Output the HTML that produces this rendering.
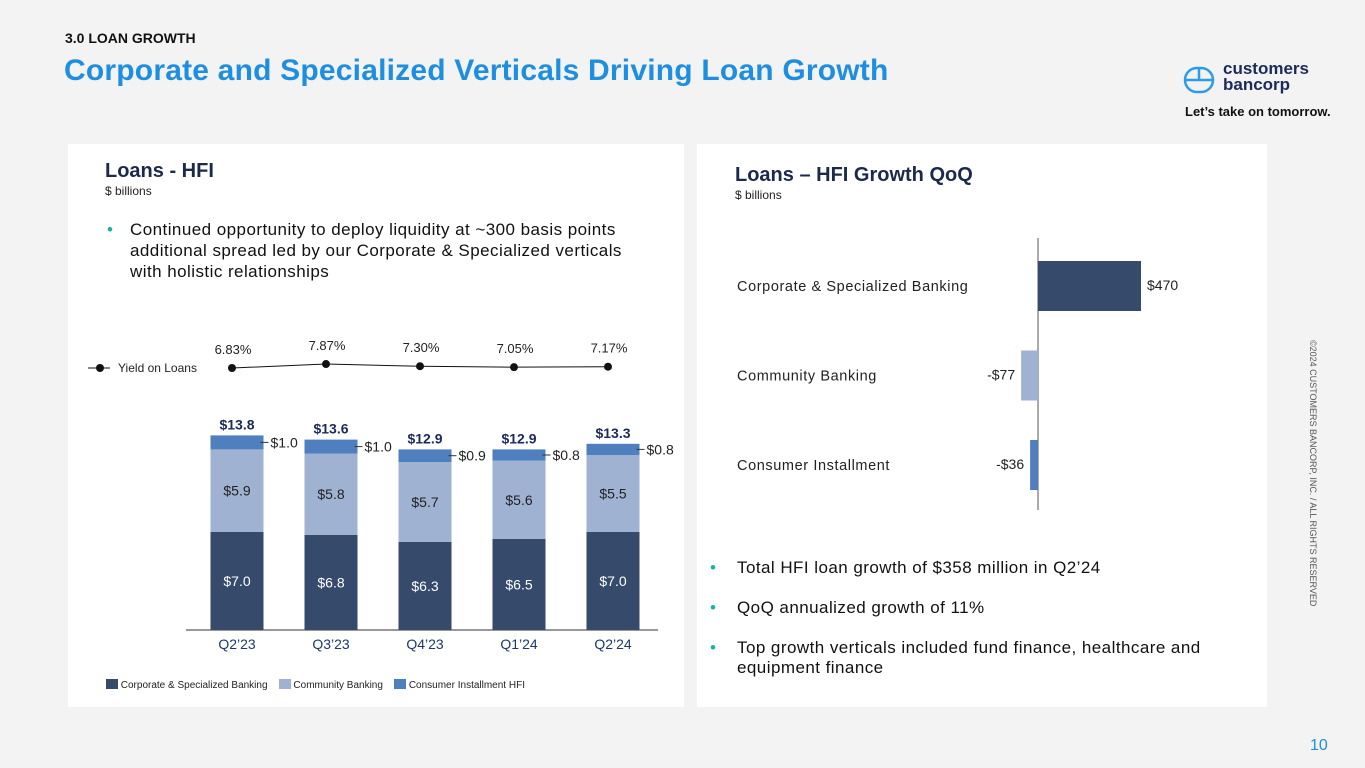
<!DOCTYPE html>
<html><head><meta charset="utf-8"><style>
body{margin:0;width:1365px;height:768px;background:#f3f3f3;font-family:"Liberation Sans",sans-serif;position:relative;overflow:hidden}
.abs{position:absolute}
.panel{position:absolute;background:#fff}
.t{position:absolute;white-space:nowrap}
.bl{position:relative;padding-left:23px}
.bl b{position:absolute;left:0;top:0;color:#1ab0a0;font-weight:normal}
</style></head><body>
<div class="t" style="left:65px;top:30px;font-size:14px;font-weight:bold;color:#111">3.0 LOAN GROWTH</div>
<div class="t" style="left:64px;top:54px;font-size:30px;font-weight:bold;color:#1e8fe0;letter-spacing:0.2px">Corporate and Specialized Verticals Driving Loan Growth</div>
<svg class="abs" style="left:1183px;top:66px" width="32" height="28" viewBox="0 0 32 28"><rect x="2" y="2" width="28" height="24" rx="12" fill="none" stroke="#2c9be8" stroke-width="2.5"/><line x1="2" y1="14" x2="30" y2="14" stroke="#2c9be8" stroke-width="2.5"/><line x1="16" y1="2" x2="16" y2="14" stroke="#2c9be8" stroke-width="2.5"/></svg>
<div class="t" style="left:1223px;top:61px;font-size:17px;font-weight:bold;color:#1b2a5a;line-height:16px">customers<br>bancorp</div>
<div class="t" style="left:1185px;top:104px;font-size:13px;font-weight:bold;color:#111">Let’s take on tomorrow.</div>
<div class="t" style="left:1318px;top:340px;font-size:9px;color:#555;transform:rotate(90deg);transform-origin:0 0">©2024 CUSTOMERS BANCORP, INC. / ALL RIGHTS RESERVED</div>
<div class="t" style="left:1310px;top:737px;font-size:16px;color:#1e8fe0">10</div>

<div class="panel" style="left:68px;top:144px;width:616px;height:563px"></div>
<div class="panel" style="left:697px;top:144px;width:570px;height:563px"></div>

<div class="t" style="left:105px;top:160px;font-size:20px;font-weight:bold;color:#1b2a4a">Loans - HFI</div>
<div class="t" style="left:105px;top:184px;font-size:12px;color:#222">$ billions</div>
<div class="t" style="left:107px;top:219px;font-size:17px;color:#111;line-height:21px;letter-spacing:0.45px"><div class="bl"><b>•</b>Continued opportunity to deploy liquidity at ~300 basis points<br>additional spread led by our Corporate &amp; Specialized verticals<br>with holistic relationships</div></div>

<div class="t" style="left:735px;top:164px;font-size:20px;font-weight:bold;color:#1b2a4a">Loans – HFI Growth QoQ</div>
<div class="t" style="left:735px;top:188px;font-size:12px;color:#222">$ billions</div>
<div class="t" style="left:710px;top:558px;font-size:17px;color:#111;line-height:20px;letter-spacing:0.45px">
<div class="bl" style="padding-left:27px"><b>•</b>Total HFI loan growth of $358 million in Q2’24</div>
<div class="bl" style="padding-left:27px;margin-top:20px"><b>•</b>QoQ annualized growth of 11%</div>
<div class="bl" style="padding-left:27px;margin-top:20px"><b>•</b>Top growth verticals included fund finance, healthcare and<br>equipment finance</div></div>

<svg id="left" class="abs" style="left:0;top:0" width="1365" height="768"></svg>

<div class="abs" style="left:106px;top:679px;font-size:10px;color:#222;white-space:nowrap">
<span><span style="display:inline-block;width:12px;height:10px;background:#364a6b;vertical-align:-1px"></span> Corporate &amp; Specialized Banking</span>&nbsp;&nbsp;&nbsp;
<span><span style="display:inline-block;width:12px;height:10px;background:#9fb2d1;vertical-align:-1px"></span> Community Banking</span>&nbsp;&nbsp;&nbsp;
<span><span style="display:inline-block;width:12px;height:10px;background:#4f7fbf;vertical-align:-1px"></span> Consumer Installment HFI</span></div>

<script>
const quarters=["Q2’23","Q3’23","Q4’23","Q1’24","Q2’24"];
const corporate=[7.0,6.8,6.3,6.5,7.0];
const community=[5.9,5.8,5.7,5.6,5.5];
const consumer=[1.0,1.0,0.9,0.8,0.8];
const totals=[13.8,13.6,12.9,12.9,13.3];
const yields=[6.83,7.87,7.30,7.05,7.17];
const qoqCats=["Corporate & Specialized Banking","Community Banking","Consumer Installment"];
const qoqVals=[470,-77,-36];

const NS="http://www.w3.org/2000/svg";
const svg=document.getElementById('left');
function mk(tag,attrs,txt){const e=document.createElementNS(NS,tag);for(const k in attrs)e.setAttribute(k,attrs[k]);if(txt!==undefined)e.textContent=txt;svg.appendChild(e);return e;}
const F='"Liberation Sans",sans-serif';
const base=630, k=14, bw=53;
const xc=i=>237+i*94;
const ys=v=>base-v*k;
const yy=v=>368-(v-6.83)*3.8;
let l=mk('line',{x1:186,y1:base,x2:658,y2:base,stroke:'#333','stroke-width':1});


const fmt=v=>'$'+v.toFixed(1);
quarters.forEach((q,i)=>{
  const x=xc(i)-bw/2;
  const y1=ys(corporate[i]), y2=ys(corporate[i]+community[i]), y3=ys(corporate[i]+community[i]+consumer[i]);
  let r=mk('rect',{x:x,y:y1,width:bw,height:base-y1,fill:'#364a6b'});
  
  
  r=mk('rect',{x:x,y:y2,width:bw,height:y1-y2,fill:'#9fb2d1'});
  
  
  r=mk('rect',{x:x,y:y3,width:bw,height:y2-y3,fill:'#4f7fbf'});
  
  
  mk('text',{x:xc(i),y:(y1+base)/2+5,'text-anchor':'middle','font-size':14,fill:'#fff','font-family':F},fmt(corporate[i]));
  mk('text',{x:xc(i),y:(y1+y2)/2+5,'text-anchor':'middle','font-size':14,fill:'#222','font-family':F},fmt(community[i]));
  const ym=(y2+y3)/2;
  mk('line',{x1:x+bw-3,y1:ym,x2:x+bw+5,y2:ym,stroke:'#333'});
  mk('text',{x:x+bw+7,y:ym+5,'font-size':14,fill:'#222','font-family':F},fmt(consumer[i]));
  let t=mk('text',{x:xc(i),y:y3-6,'text-anchor':'middle','font-size':14,'font-weight':'bold',fill:'#1b2a5a','font-family':F},'$'+totals[i].toFixed(1));
  
  
  t=mk('text',{x:xc(i),y:649,'text-anchor':'middle','font-size':14,fill:'#1b3a6a','font-family':F},q);
  
  
});
let pts=yields.map((v,i)=>xc(i)-5+','+yy(v)).join(' ');
let pl=mk('polyline',{points:pts,fill:'none',stroke:'#111','stroke-width':1});


yields.forEach((v,i)=>{
  let c=mk('circle',{cx:xc(i)-5,cy:yy(v),r:4,fill:'#111'});
  
  
  mk('text',{x:xc(i)-4,y:yy(v)-14,'text-anchor':'middle','font-size':13,fill:'#222','font-family':F},v.toFixed(2)+'%');
});
mk('line',{x1:88,y1:368,x2:110,y2:368,stroke:'#111'});
mk('circle',{cx:100,cy:368,r:4,fill:'#111'});
let lt=mk('text',{x:118,y:372,'font-size':12,fill:'#222','font-family':F},'Yield on Loans');



// QoQ chart
const ax=1038, hk=103/470;
const yc=i=>286+i*89.5;
const cols=['#364a6b','#9fb2d1','#4f7fbf'];
let a=mk('line',{x1:ax,y1:238,x2:ax,y2:510,stroke:'#555','stroke-width':1});


qoqCats.forEach((c,i)=>{
  const v=qoqVals[i], w=Math.abs(v)*hk, x=v>=0?ax:ax-w;
  let r=mk('rect',{x:x,y:yc(i)-25,width:w,height:50,fill:cols[i]});
  
  
  let t=mk('text',{x:737,y:yc(i)+5,'font-size':14.5,'letter-spacing':0.6,fill:'#222','font-family':F},c);
  
  
  const lab=(v<0?'-':'')+'$'+Math.abs(v);
  t=mk('text',{x:v>=0?ax+w+6:x-6,y:yc(i)+4,'text-anchor':v>=0?'start':'end','font-size':14,fill:'#222','font-family':F},lab);
  
  
});
</script>
</body></html>
